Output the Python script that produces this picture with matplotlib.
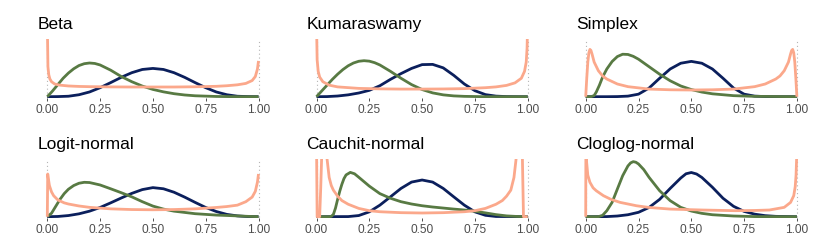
import matplotlib
matplotlib.use("Agg")
from matplotlib import pyplot as plt

plt.rcParams['font.family'] = ['Liberation Sans', 'DejaVu Sans']

NAVY = '#0b1f5c'
GREEN = '#587a43'
SALMON = '#fba88b'

titles = ['Beta', 'Kumaraswamy', 'Simplex', 'Logit-normal', 'Cauchit-normal', 'Cloglog-normal']
tick_values = [0, 0.25, 0.5, 0.75, 1]
tick_labels = ['0.00', '0.25', '0.50', '0.75', '1.00']

# ---- Beta ----
beta_blue_x = [0, .05, .1, .15, .2, .25, .3, .35, .4, .45, .5, .55, .6, .65, .7, .75, .8, .85, .9, .95, 1]
beta_blue_y = [0, 0.01, 0.04, 0.17, 0.41, 0.78, 1.22, 1.68, 2.08, 2.36, 2.45, 2.36, 2.08, 1.68, 1.22, 0.78, 0.41, 0.17, 0.04, 0.01, 0]
beta_green_x = [0, .025, .05, .075, .1, .125, .15, .175, .2, .225, .25, .3, .35, .4, .45, .5, .55, .6, .65, .7, .8, .9, 1]
beta_green_y = [0, 0.5, 1.05, 1.6, 2.05, 2.42, 2.7, 2.86, 2.92, 2.88, 2.75, 2.3, 1.75, 1.3, 0.92, 0.63, 0.42, 0.26, 0.15, 0.08, 0.02, 0, 0]
beta_orange_x = [0, .003, .007, .012, .02, .035, .06, .1, .15, .2, .3, .4, .5, .6, .7, .8, .85, .9, .94, .97, .985, .995, 1]
beta_orange_y = [6.5, 2.6, 1.9, 1.55, 1.3, 1.1, 1.0, 0.93, 0.89, 0.87, 0.85, 0.84, 0.84, 0.84, 0.86, 0.9, 0.95, 1.03, 1.15, 1.4, 1.75, 2.4, 3.1]

# ---- Kumaraswamy ----
kuma_blue_x = [0, .05, .1, .15, .2, .25, .3, .35, .4, .45, .5, .55, .6, .65, .7, .75, .8, .85, .9, .95, 1]
kuma_blue_y = [0, 0.01, 0.06, 0.16, 0.32, 0.55, 0.95, 1.5, 2.0, 2.45, 2.78, 2.8, 2.5, 1.85, 1.1, 0.52, 0.18, 0.05, 0.01, 0, 0]
kuma_green_x = [0, .025, .05, .075, .1, .125, .15, .175, .2, .225, .25, .275, .3, .35, .4, .45, .5, .55, .6, .65, .7, .8, 1]
kuma_green_y = [0, 0.5, 1.0, 1.5, 1.95, 2.35, 2.68, 2.92, 3.07, 3.12, 3.08, 2.95, 2.75, 2.2, 1.6, 1.05, 0.62, 0.33, 0.16, 0.07, 0.03, 0, 0]
kuma_orange_x = [0, .003, .008, .015, .03, .06, .1, .2, .3, .4, .5, .6, .7, .8, .85, .9, .94, .97, .985, .993, .997, 1]
kuma_orange_y = [6.5, 3.2, 2.2, 1.7, 1.3, 1.0, 0.85, 0.72, 0.68, 0.66, 0.66, 0.67, 0.7, 0.78, 0.85, 0.98, 1.2, 1.6, 2.2, 3.0, 4.2, 6.5]

# ---- Simplex ----
simp_blue_x = [0, .1, .15, .2, .25, .3, .35, .4, .45, .5, .55, .6, .65, .7, .75, .8, .85, .9, 1]
simp_blue_y = [0, 0, 0.01, 0.05, 0.22, 0.75, 1.6, 2.4, 2.9, 3.06, 2.9, 2.4, 1.6, 0.75, 0.22, 0.05, 0.01, 0, 0]
simp_green_x = [0, .025, .04, .05, .065, .08, .1, .125, .15, .175, .2, .225, .25, .3, .35, .4, .45, .5, .55, .6, .7, .8, 1]
simp_green_y = [0, 0, 0.1, 0.4, 1.0, 1.7, 2.4, 3.05, 3.48, 3.68, 3.66, 3.5, 3.25, 2.6, 1.95, 1.38, 0.93, 0.62, 0.4, 0.25, 0.09, 0.03, 0]
simp_orange_x = [0, .005, .01, .015, .02, .025, .03, .04, .06, .08, .1, .15, .2, .3, .4, .5, .6, .7, .8, .85, .9, .92, .94, .96, .97, .975, .98, .985, .99, .995, 1]
simp_orange_y = [0, 1.6, 3.0, 3.8, 4.1, 4.0, 3.7, 3.0, 2.25, 1.8, 1.53, 1.1, 0.87, 0.66, 0.6, 0.58, 0.6, 0.66, 0.87, 1.1, 1.53, 1.8, 2.25, 3.0, 3.7, 4.0, 4.1, 3.8, 3.0, 1.6, 0]

# ---- Logit-normal ----
logit_blue_x = [0, .05, .1, .15, .2, .25, .3, .35, .4, .45, .5, .55, .6, .65, .7, .75, .8, .85, .9, .95, 1]
logit_blue_y = [0, 0.02, 0.1, 0.25, 0.48, 0.8, 1.2, 1.62, 2.02, 2.35, 2.52, 2.42, 2.12, 1.7, 1.24, 0.8, 0.45, 0.2, 0.07, 0.01, 0]
logit_green_x = [0, .02, .04, .06, .08, .1, .125, .15, .175, .2, .25, .3, .35, .4, .45, .5, .55, .6, .7, .8, .9, .95, 1]
logit_green_y = [0, 0.3, 0.9, 1.5, 2.0, 2.38, 2.7, 2.9, 2.98, 2.96, 2.75, 2.42, 2.08, 1.72, 1.3, 0.92, 0.66, 0.48, 0.26, 0.14, 0.07, 0.03, 0]
logit_orange_x = [0, .002, .005, .01, .02, .03, .05, .08, .1, .15, .2, .3, .4, .5, .6, .7, .8, .85, .9, .94, .97, .985, .995, 1]
logit_orange_y = [0, 3.7, 3.3, 2.7, 2.15, 1.82, 1.45, 1.2, 1.1, 0.93, 0.81, 0.68, 0.62, 0.6, 0.62, 0.68, 0.8, 0.88, 1.0, 1.3, 1.7, 2.2, 3.0, 3.7]

# ---- Cauchit-normal ----
cauchit_blue_x = [0, .15, .2, .25, .3, .35, .4, .45, .5, .55, .6, .65, .7, .75, .8, .85, 1]
cauchit_blue_y = [0, 0.01, 0.1, 0.42, 1.0, 1.72, 2.45, 3.0, 3.18, 3.0, 2.45, 1.72, 1.0, 0.42, 0.12, 0.02, 0]
cauchit_green_x = [0, .06, .07, .08, .09, .1, .11, .12, .13, .14, .16, .18, .2, .25, .3, .35, .4, .45, .5, .55, .6, .65, .7, .75, .8, .85, .9, .95, 1]
cauchit_green_y = [0, 0, 0.03, 0.2, 0.75, 1.5, 2.2, 2.8, 3.3, 3.62, 3.84, 3.72, 3.42, 2.65, 2.0, 1.6, 1.3, 1.1, 0.95, 0.84, 0.75, 0.66, 0.58, 0.47, 0.33, 0.18, 0.07, 0.02, 0]
cauchit_orange_x = [0, .003, .015, .02, .025, .03, .045, .05, .06, .07, .08, .1, .12, .15, .2, .25, .3, .4, .5, .6, .7, .75, .8, .85, .88, .9, .92, .935, .945, .95, .97, .975, .98, 1]
cauchit_orange_y = [6.5, 0, 0, 2.5, 5.5, 6.5, 6.5, 5.0, 3.4, 2.7, 2.3, 1.78, 1.4, 1.08, 0.72, 0.52, 0.43, 0.35, 0.32, 0.35, 0.43, 0.52, 0.72, 1.08, 1.4, 1.78, 2.3, 3.4, 5.0, 6.5, 6.5, 5.0, 0, 0]

# ---- Cloglog-normal ----
clog_blue_x = [0, .1, .15, .2, .25, .3, .35, .4, .45, .475, .5, .525, .55, .6, .65, .7, .75, .8, .85, .9, 1]
clog_blue_y = [0, 0.01, 0.06, 0.17, 0.38, 0.8, 1.5, 2.45, 3.35, 3.72, 3.83, 3.7, 3.4, 2.55, 1.6, 0.9, 0.46, 0.22, 0.09, 0.03, 0]
clog_green_x = [0, .06, .08, .1, .125, .15, .175, .2, .2125, .225, .2375, .25, .275, .3, .35, .4, .45, .5, .55, .6, .7, .8, 1]
clog_green_y = [0, 0, 0.12, 0.52, 1.24, 2.4, 3.55, 4.4, 4.66, 4.77, 4.72, 4.57, 4.08, 3.41, 2.25, 1.39, 0.81, 0.49, 0.29, 0.17, 0.06, 0.01, 0]
clog_orange_x = [0, .001, .004, .01, .02, .035, .05, .084, .12, .163, .24, .3, .4, .55, .71, .8, .87, .94, .97, .985, .992, .996, .999, 1]
clog_orange_y = [0, 6.5, 4.8, 3.6, 2.98, 2.5, 2.25, 1.82, 1.5, 1.24, 0.95, 0.8, 0.66, 0.58, 0.52, 0.54, 0.58, 0.81, 1.24, 1.82, 2.6, 3.6, 5.2, 6.5]

panels = [
    [(beta_blue_x, beta_blue_y), (beta_green_x, beta_green_y), (beta_orange_x, beta_orange_y)],
    [(kuma_blue_x, kuma_blue_y), (kuma_green_x, kuma_green_y), (kuma_orange_x, kuma_orange_y)],
    [(simp_blue_x, simp_blue_y), (simp_green_x, simp_green_y), (simp_orange_x, simp_orange_y)],
    [(logit_blue_x, logit_blue_y), (logit_green_x, logit_green_y), (logit_orange_x, logit_orange_y)],
    [(cauchit_blue_x, cauchit_blue_y), (cauchit_green_x, cauchit_green_y), (cauchit_orange_x, cauchit_orange_y)],
    [(clog_blue_x, clog_blue_y), (clog_green_x, clog_green_y), (clog_orange_x, clog_orange_y)],
]
colors = [NAVY, GREEN, SALMON]

W, H = 822, 253
fig = plt.figure(figsize=(W / 100, H / 100), dpi=100)

YTOP = 5.0
YLOW = -0.1
XPAD = 0.012
for i, (title, curves) in enumerate(zip(titles, panels)):
    r, c = divmod(i, 3)
    x0 = 47.3 + 269.2 * c          # pixel of x = 0
    span = 211.2                   # pixels from 0 to 1
    base = 97.7 + 120 * r          # pixel of y = 0
    top = 40.0 + 120 * r           # pixel of y = YTOP
    ppu = (base - top) / YTOP
    left = x0 - XPAD * span
    width = span * (1 + 2 * XPAD)
    bottom = base - YLOW * ppu
    ax = fig.add_axes([left / W, 1 - bottom / H, width / W, (bottom - top) / H])

    for xv in (0, 1):
        ax.plot([xv, xv], [0, YTOP], linestyle=(0, (1, 2.5)), color='#b5b5b5', lw=0.8, zorder=1)
    for (xs, ys), col in zip(curves, colors):
        ax.plot(xs, ys, color=col, lw=2.0, solid_capstyle='butt', solid_joinstyle='round', zorder=2)

    ax.set_xlim(-XPAD, 1 + XPAD)
    ax.set_ylim(YLOW, YTOP)
    ax.set_xticks(tick_values)
    ax.set_xticklabels(tick_labels)
    ax.set_yticks([])
    for s in ax.spines.values():
        s.set_visible(False)
    ax.tick_params(axis='x', length=2.5, width=0.6, color='#333333', pad=1.5,
                   labelsize=8.6, labelcolor='#4d4d4d')
    ax.patch.set_alpha(0)

    fig.text((x0 - 10) / W, 1 - (28.8 + 120 * r) / H, title, ha='left', va='baseline',
             fontsize=12.5, color='black')

fig.savefig('out.png', dpi=100)
